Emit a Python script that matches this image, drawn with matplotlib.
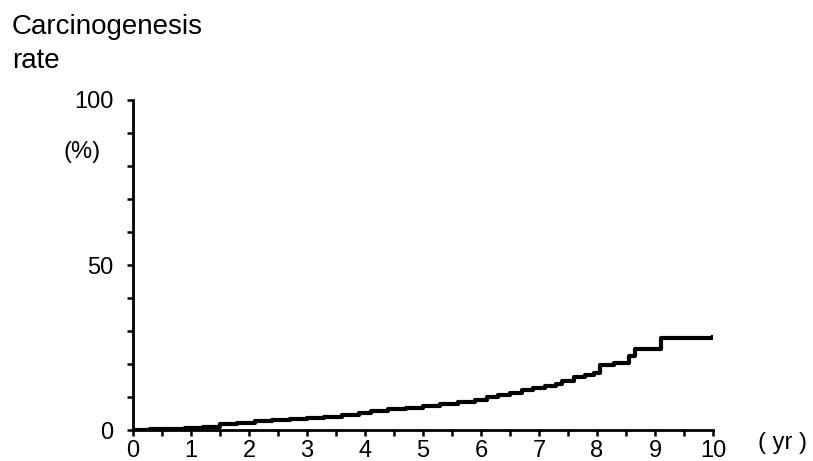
import matplotlib
matplotlib.use('Agg')
import matplotlib.pyplot as plt
from matplotlib.ticker import MultipleLocator

plt.rcParams['font.family'] = ['Liberation Sans', 'DejaVu Sans']

# data (years, cumulative %)
years = [0, 0.3, 0.6, 0.9, 1.2, 1.5, 1.8, 2.1, 2.4, 2.7, 3.0, 3.3, 3.6, 3.9,
         4.1, 4.4, 4.7, 5.0, 5.3, 5.6, 5.9, 6.1, 6.3, 6.5, 6.7, 6.9, 7.1,
         7.3, 7.4, 7.6, 7.8, 7.95, 8.05, 8.3, 8.55, 8.65, 9.1, 10.0]
rate = [0, 0.2, 0.4, 0.6, 1.0, 1.8, 2.2, 2.6, 3.0, 3.3, 3.6, 4.0, 4.6, 5.2,
        5.8, 6.3, 6.8, 7.4, 8.0, 8.5, 9.2, 9.9, 10.6, 11.2, 12.0, 12.7, 13.4,
        13.8, 15.0, 16.2, 16.8, 17.4, 19.7, 20.2, 22.3, 24.5, 27.9, 28.2]

xticks = list(range(0, 11))
yticks = [0, 50, 100]

fig = plt.figure(figsize=(8.13, 4.61), dpi=100)
ax = fig.add_axes([133/813, 1 - 430/461, 580/813, 330/461])

ax.plot(years, rate, drawstyle='steps-post', color='black', lw=3.0)

ax.set_xlim(0, 10)
ax.set_ylim(0, 100)
ax.set_xticks(xticks)
ax.set_yticks(yticks)
ax.xaxis.set_minor_locator(MultipleLocator(0.5))
ax.yaxis.set_minor_locator(MultipleLocator(10))
ax.tick_params(axis='both', which='both', direction='out', length=4, width=1.8,
               labelsize=17, color='black')
ax.tick_params(axis='x', pad=3)
ax.tick_params(axis='y', pad=10)

for s in ['top', 'right']:
    ax.spines[s].set_visible(False)
for s in ['left', 'bottom']:
    ax.spines[s].set_linewidth(2.0)

fig.text(12/813, 1 - 27/461, 'Carcinogenesis', fontsize=20, va='center', ha='left')
fig.text(12/813, 1 - 61/461, 'rate', fontsize=20, va='center', ha='left')
fig.text(82/813, 1 - 152/461, '(%)', fontsize=17, va='center', ha='center')
fig.text(782/813, 1 - 443/461, '( yr )', fontsize=17, va='center', ha='center')

fig.savefig('out.png', dpi=100)
